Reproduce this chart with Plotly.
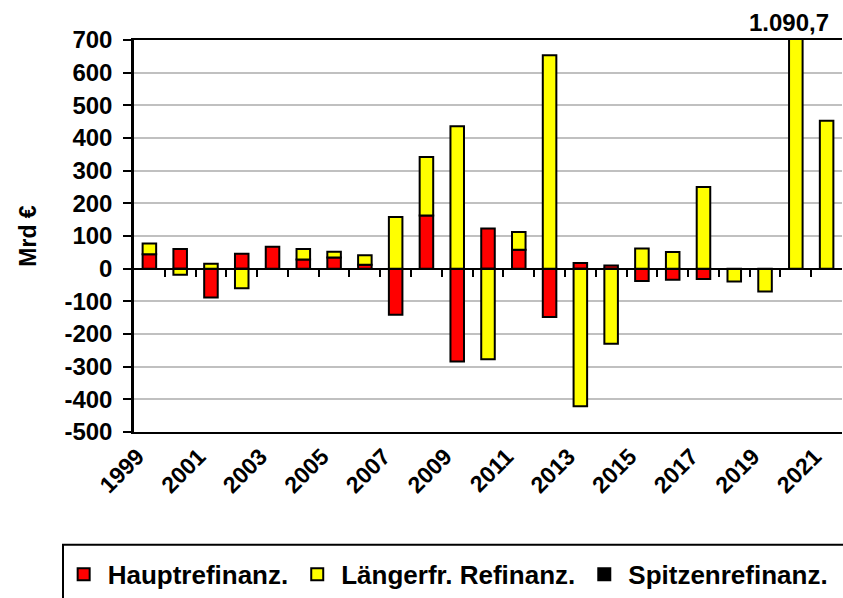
import plotly.graph_objects as go

# Jahresveränderung der Refinanzierungsgeschäfte des Eurosystems (Mrd €)
years = list(range(1999, 2022))
haupt = [44, 60, -88, 46, 67, 28, 34, 12, -141, 163, -284, 123, 58, -148,
         17, 10, -38, -34, -32, None, None, None, None]
laenger = [33, -19, 15, -60, None, 32, 18, 29, 158, 179, 436, -277, 54, 653,
           -421, -230, 62, 51, 250, -39, -70, 1090.7, 453]
spitzen = [None] * len(years)

tick_years = years[::2]
y_ticks = list(range(-500, 701, 100))

FONT = "Liberation Sans, Arial, sans-serif"
bar_line = dict(color="black", width=2)


def de_format(v):
    s = f"{v:,.1f}"
    return s.replace(",", "X").replace(".", ",").replace("X", ".")


fig = go.Figure()
fig.add_bar(x=years, y=haupt, name="Hauptrefinanz.",
            marker=dict(color="#ff0000", line=bar_line))
fig.add_bar(x=years, y=laenger, name="Längerfr. Refinanz.",
            marker=dict(color="#ffff00", line=bar_line))
fig.add_bar(x=years, y=spitzen, name="Spitzenrefinanz.",
            marker=dict(color="#000000", line=bar_line))

# value label for the bar that runs off the top of the scale
peak_i = max(range(len(laenger)), key=lambda i: laenger[i] or 0)
fig.add_annotation(x=years[peak_i], y=1, yref="paper", yanchor="bottom",
                   text=de_format(laenger[peak_i]), showarrow=False,
                   xshift=-7, yshift=2,
                   font=dict(family=FONT, size=24, color="black", weight="bold"))

x_range = [years[0] - 0.5, years[-1] + 0.5]
y_range = [y_ticks[0], y_ticks[-1]]

fig.update_layout(
    width=843, height=598,
    margin=dict(l=134, r=1, t=40, b=165),
    paper_bgcolor="white", plot_bgcolor="white",
    barmode="relative", bargap=0.56,
    font=dict(family=FONT, size=24, color="black", weight="bold"),
    showlegend=True,
    legend=dict(orientation="h", x=-0.105, y=-0.30, xanchor="left", yanchor="top",
                font=dict(family=FONT, size=26, color="black", weight="bold"),
                bgcolor="rgba(0,0,0,0)", itemwidth=38, entrywidth=0),
    xaxis=dict(range=x_range, tickmode="array", tickvals=tick_years,
               ticktext=[str(y) for y in tick_years], tickangle=-45,
               ticklabelshift=-12, ticklabelstandoff=0,
               tickfont=dict(family=FONT, size=23, weight="bold"),
               ticks="", showgrid=False, zeroline=False,
               showline=True, linecolor="black", linewidth=2, mirror=True),
    xaxis2=dict(range=x_range, overlaying="x", anchor="free",
                position=(0 - y_range[0]) / (y_range[1] - y_range[0]),
                side="bottom", showticklabels=False, showgrid=False,
                zeroline=False, showline=True, linecolor="black", linewidth=2,
                tickmode="array", tickvals=[y + 0.5 for y in years[:-1]],
                ticks="outside", ticklen=7, tickwidth=2, tickcolor="black"),
    yaxis=dict(range=y_range, tickmode="array", tickvals=y_ticks,
               ticktext=[str(v) for v in y_ticks],
               ticks="outside", ticklen=8, tickwidth=2, tickcolor="black",
               ticklabelstandoff=6,
               tickfont=dict(family=FONT, size=24, weight="bold"),
               showline=True, linecolor="black", linewidth=2.5,
               showgrid=True, gridcolor="#c0c0c0", gridwidth=1.5,
               zeroline=False,
               title=dict(text="Mrd €", standoff=22,
                          font=dict(family=FONT, size=23, weight="bold"))),
    shapes=[dict(type="rect", xref="paper", yref="paper",
                 x0=-71 / 708, x1=1.05, y0=(433 - 546) / 393, y1=-0.6,
                 line=dict(color="black", width=2), fillcolor="rgba(0,0,0,0)",
                 layer="above")],
)

# invisible trace to bring the zero-line axis to life
fig.add_scatter(x=[years[0]], y=[None], xaxis="x2", showlegend=False,
                hoverinfo="skip")

fig.write_html("out.html")
